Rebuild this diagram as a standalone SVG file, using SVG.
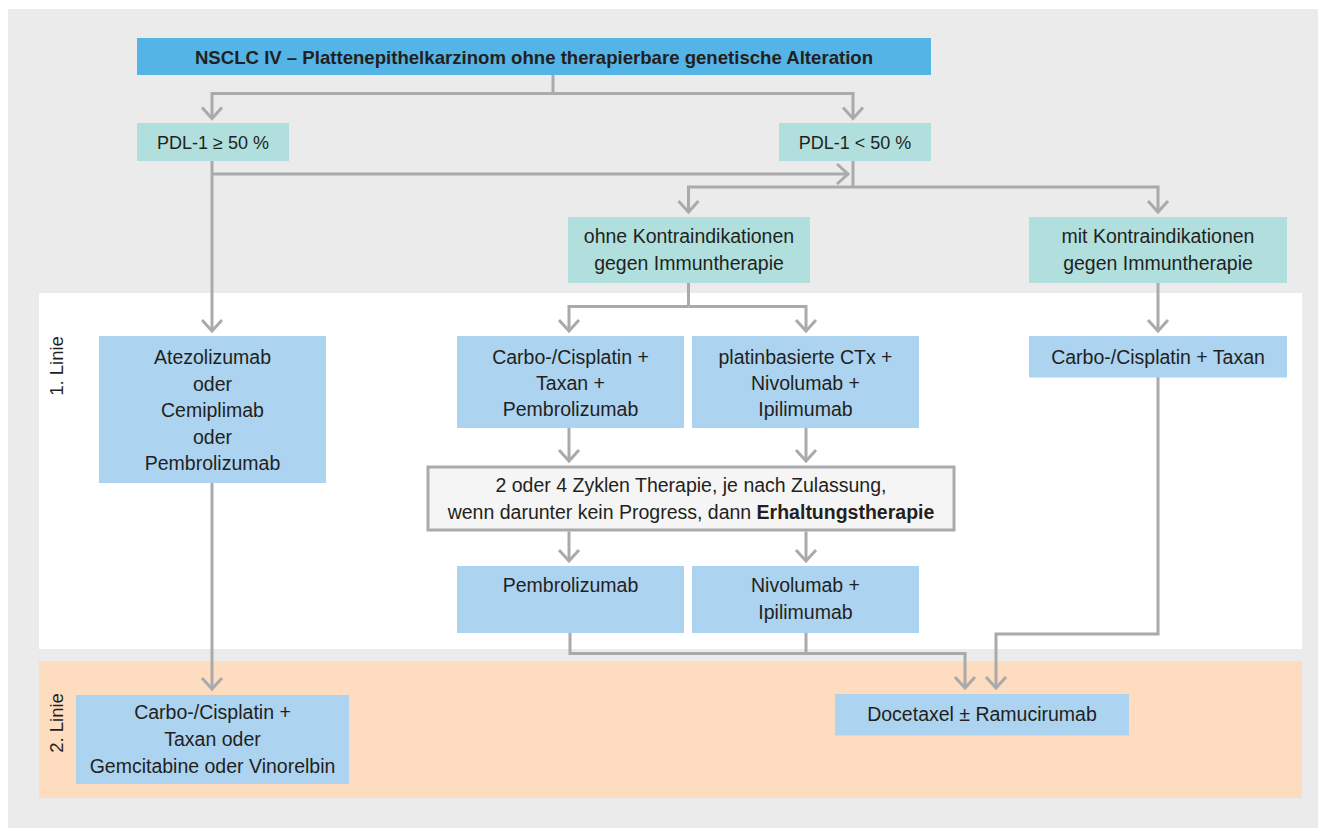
<svg xmlns="http://www.w3.org/2000/svg" width="1318" height="828" viewBox="0 0 1318 828">
  <style>
    text { font-family: "Liberation Sans", Arial, sans-serif; font-size: 19.5px; fill: #231f20; text-anchor: middle; }
    .title { font-weight: bold; font-size: 18.6px; }
    .pdl { font-size: 18px; }
    .side { font-size: 18.5px; }
    .head { fill: #55b4e6; }
    .cyan { fill: #b0dfdd; }
    .blue { fill: #acd3f0; }
    .note { fill: #f5f5f5; stroke: #aaaaac; stroke-width: 3; }
    .wire { fill: none; stroke: #aaaaac; stroke-width: 3; stroke-linejoin: miter; stroke-linecap: butt; }
    .arrow { marker-end: url(#chev); }
  </style>
  <defs>
    <marker id="chev" markerUnits="userSpaceOnUse" viewBox="-14 -13 16 26" refX="0" refY="0" markerWidth="16" markerHeight="26" orient="auto" overflow="visible">
      <path d="M-11,-10 L0,0 L-11,10" fill="none" stroke="#aaaaac" stroke-width="3"/>
    </marker>
  </defs>

  <!-- background panels -->
  <rect x="8" y="9" width="1310" height="819" fill="#eaebea"/>
  <rect x="39" y="293" width="1263" height="356" fill="#ffffff"/>
  <rect x="39" y="661" width="1263" height="137" fill="#fddcbf"/>

  <!-- line labels -->
  <text class="side" transform="translate(63,366) rotate(-90)">1. Linie</text>
  <text class="side" transform="translate(63,723) rotate(-90)">2. Linie</text>

  <!-- connectors -->
  <g id="connectors">
    <path class="wire" d="M553,75 V93.5"/>
    <path class="wire arrow" d="M553,93.5 H212 V118.5"/>
    <path class="wire arrow" d="M553,93.5 H853 V118.5"/>
    <path class="wire arrow" d="M212,161 V331"/>
    <path class="wire arrow" d="M212,174 H848"/>
    <path class="wire" d="M853,161 V187"/>
    <path class="wire arrow" d="M853,187 H688.5 V212"/>
    <path class="wire arrow" d="M853,187 H1158 V212"/>
    <path class="wire" d="M688.5,283 V306.5"/>
    <path class="wire arrow" d="M688.5,306.5 H569 V331"/>
    <path class="wire arrow" d="M688.5,306.5 H806 V331"/>
    <path class="wire arrow" d="M1158,283 V331"/>
    <path class="wire arrow" d="M569,428 V461"/>
    <path class="wire arrow" d="M806,428 V461"/>
    <path class="wire arrow" d="M569,531.5 V561"/>
    <path class="wire arrow" d="M806,531.5 V561"/>
    <path class="wire arrow" d="M212,483 V689"/>
    <path class="wire arrow" d="M570,633 V653.5 H965 V688"/>
    <path class="wire" d="M806,633 V653.5"/>
    <path class="wire arrow" d="M1158,377 V634 H996 V688"/>
  </g>

  <!-- header -->
  <g id="n-title">
    <rect class="head" x="137" y="38" width="794" height="37"/>
    <text class="title" x="534" y="63.5">NSCLC IV – Plattenepithelkarzinom ohne therapierbare genetische Alteration</text>
  </g>

  <!-- PD-L1 split -->
  <g id="n-pdl-high">
    <rect class="cyan" x="137" y="123" width="152" height="38"/>
    <text class="pdl" x="213" y="149">PDL-1 ≥ 50 %</text>
  </g>
  <g id="n-pdl-low">
    <rect class="cyan" x="779" y="123" width="152" height="38"/>
    <text class="pdl" x="855" y="149">PDL-1 &lt; 50 %</text>
  </g>

  <!-- contraindication split -->
  <g id="n-ohne-ki">
    <rect class="cyan" x="568" y="217" width="242" height="66"/>
    <text x="689" y="243">ohne Kontraindikationen</text>
    <text x="689" y="269.7">gegen Immuntherapie</text>
  </g>
  <g id="n-mit-ki">
    <rect class="cyan" x="1029" y="217" width="258" height="66"/>
    <text x="1158" y="243">mit Kontraindikationen</text>
    <text x="1158" y="269.7">gegen Immuntherapie</text>
  </g>

  <!-- first line -->
  <g id="n-mono">
    <rect class="blue" x="99" y="336" width="227" height="147"/>
    <text x="212.5" y="364">Atezolizumab</text>
    <text x="212.5" y="390.5">oder</text>
    <text x="212.5" y="417">Cemiplimab</text>
    <text x="212.5" y="443.5">oder</text>
    <text x="212.5" y="470">Pembrolizumab</text>
  </g>
  <g id="n-chemo-pembro">
    <rect class="blue" x="457" y="336" width="227" height="92"/>
    <text x="570.5" y="363.7">Carbo-/Cisplatin +</text>
    <text x="570.5" y="390.3">Taxan +</text>
    <text x="570.5" y="416.3">Pembrolizumab</text>
  </g>
  <g id="n-chemo-nivo">
    <rect class="blue" x="692" y="336" width="227" height="92"/>
    <text x="805.5" y="363.7">platinbasierte CTx +</text>
    <text x="805.5" y="390.3">Nivolumab +</text>
    <text x="805.5" y="416.3">Ipilimumab</text>
  </g>
  <g id="n-chemo-only">
    <rect class="blue" x="1029" y="336" width="258" height="41.5"/>
    <text x="1158" y="363.7">Carbo-/Cisplatin + Taxan</text>
  </g>
  <g id="n-cycles">
    <rect class="note" x="428" y="467" width="526" height="63"/>
    <text x="691" y="492">2 oder 4 Zyklen Therapie, je nach Zulassung,</text>
    <text x="691" y="518.7">wenn darunter kein Progress, dann <tspan font-weight="bold">Erhaltungstherapie</tspan></text>
  </g>
  <g id="n-maint-pembro">
    <rect class="blue" x="457" y="566" width="227" height="67"/>
    <text x="570.5" y="592">Pembrolizumab</text>
  </g>
  <g id="n-maint-nivo">
    <rect class="blue" x="692" y="566" width="227" height="67"/>
    <text x="805.5" y="592">Nivolumab +</text>
    <text x="805.5" y="618.7">Ipilimumab</text>
  </g>

  <!-- second line -->
  <g id="n-second-left">
    <rect class="blue" x="76" y="695" width="273" height="89"/>
    <text x="212.5" y="718.7">Carbo-/Cisplatin +</text>
    <text x="212.5" y="746">Taxan oder</text>
    <text x="212.5" y="773">Gemcitabine oder Vinorelbin</text>
  </g>
  <g id="n-second-right">
    <rect class="blue" x="835" y="694" width="294" height="41.5"/>
    <text x="982" y="721.3">Docetaxel ± Ramucirumab</text>
  </g>
</svg>
